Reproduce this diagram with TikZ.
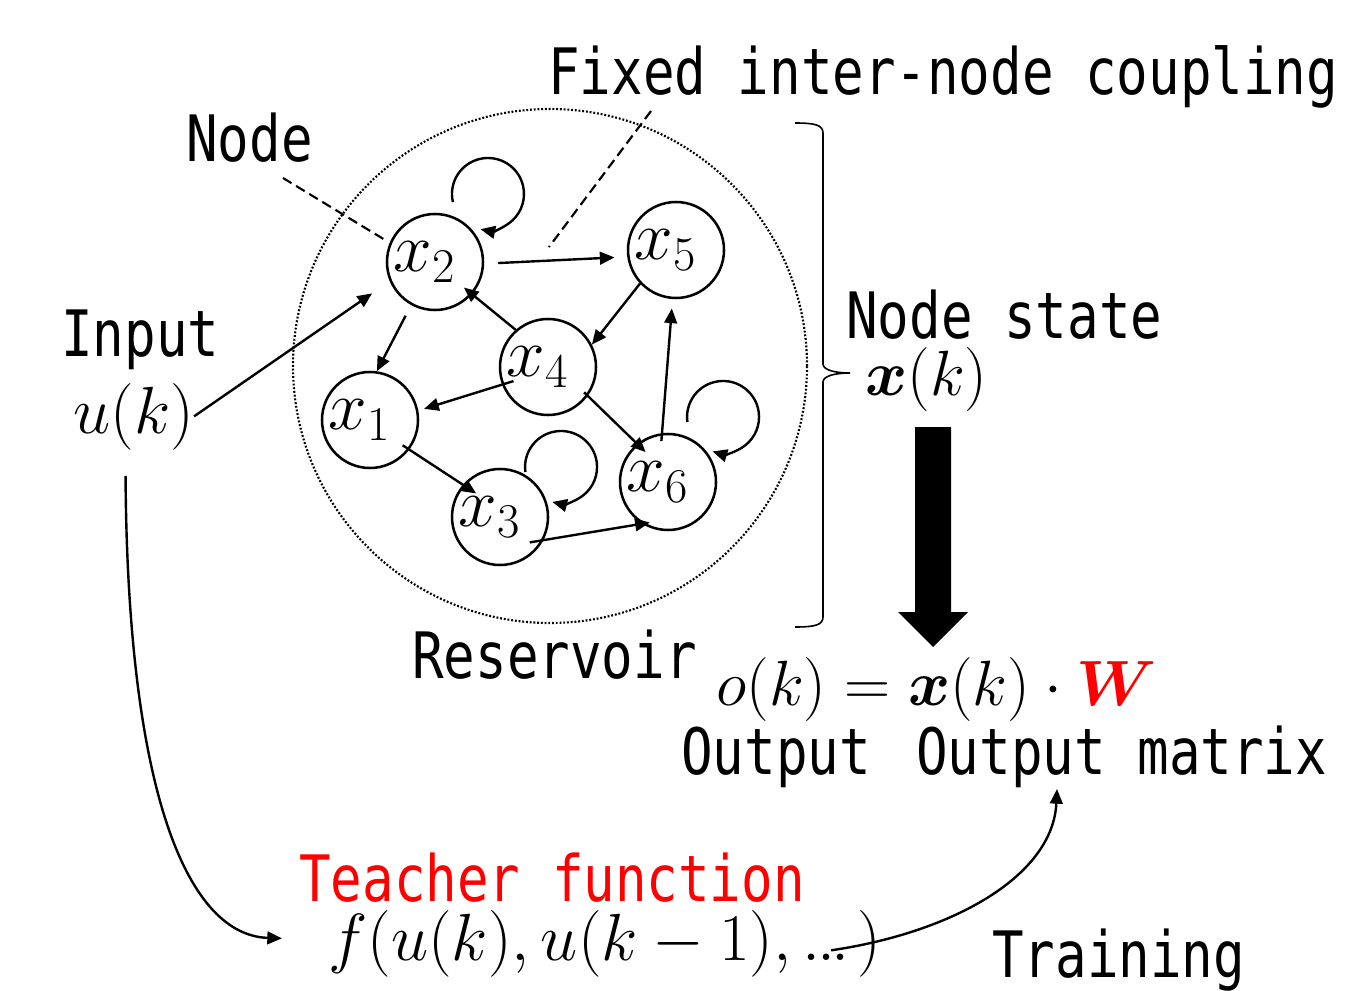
\RequirePackage{fix-cm}
\documentclass[tikz,border=0pt]{standalone}
\usepackage{amsmath}
\usepackage{fontspec}
\usetikzlibrary{arrows.meta}
\newfontfamily\lblfont[FakeStretch=0.82]{DejaVu Sans Mono}
\newcommand\lblsize{\fontsize{48pt}{52pt}\selectfont}
\newcommand\mathsz{\fontsize{48pt}{52pt}\selectfont}
\newcommand\nodesz{\fontsize{52pt}{56pt}\selectfont}
\definecolor{tred}{RGB}{255,0,0}

\begin{document}
\begin{tikzpicture}[x=0.75pt, y=-0.75pt,
  rnode/.style={circle, draw, line width=1.9pt, minimum size=72pt, inner sep=0pt, font=\nodesz},
  arr/.style={-{Triangle[length=11pt,width=9.5pt]}, line width=1.8pt},
  lbl/.style={anchor=base west, inner sep=0pt, font=\lblfont\lblsize},
  mth/.style={anchor=base west, inner sep=0pt, font=\mathsz},
  leader/.style={line width=1.6pt, dash pattern=on 7.5pt off 4pt},
  brace/.style={line width=1.2pt}]

\useasboundingbox (0,0) rectangle (1349,991);

% reservoir boundary
\node[circle, draw, line width=1.6pt, dash pattern=on 1.4pt off 1.4pt,
      minimum size=385.5pt, inner sep=0pt] (res) at (550,366) {};

% reservoir nodes
\node[rnode] (x1) at (370,420) {$x_1$\kern16pt};
\node[rnode] (x2) at (435,262) {$x_2$\kern16pt};
\node[rnode] (x3) at (500,517) {$x_3$\kern16pt};
\node[rnode] (x4) at (548,367) {$x_4$\kern16pt};
\node[rnode] (x5) at (676,250) {$x_5$\kern16pt};
\node[rnode] (x6) at (668,482) {$x_6$\kern16pt};

% couplings
\draw[arr, shorten <=10.5pt, shorten >=9.5pt] (x2.358) -- (x5.188);
\draw[arr, shorten >=-8pt] (x4.131) -- (x2.319);
\draw[arr] (x5.223) -- (x4.27);
\draw[arr, shorten <=9pt] (x2.241) -- (x1.82);
\draw[arr, shorten <=-9pt, shorten >=4.5pt] (x4.201) -- (x1.11);
\draw[arr, shorten <=-4pt, shorten >=-9pt] (x4.324) -- (x6.129);
\draw[arr, shorten <=-6pt, shorten >=7pt] (x6.97) -- (x5.266);
\draw[arr, shorten <=-6pt, shorten >=-12pt] (x1.323) -- (x3.139);
\draw[arr, shorten <=-10.5pt, shorten >=-6pt] (x3.332) -- (x6.238);

% self couplings
\draw[arr] ([shift={(17.9,-59.9)}]x2.center) arc[start angle=-167, end angle=-462, radius=27pt];
\draw[arr] ([shift={(25.4,-45)}]x3.center) arc[start angle=-172, end angle=-464, radius=27pt];
\draw[arr] ([shift={(19.4,-60)}]x6.center) arc[start angle=-172, end angle=-467, radius=27pt];

% text
\node[lbl] (fixlbl) at (548,95) {Fixed inter-node coupling};
\node[lbl] (nodelbl) at (186,162) {Node};
\node[lbl] (inlbl) at (61,356) {Input};
\node[mth, font=\fontsize{50pt}{54pt}\selectfont] (uk) at (73,433) {$u(k)$};
\node[lbl] (statelbl) at (846,339) {Node state};
\node[mth] (xk) at (865,395) {$\boldsymbol{x}(k)$};
\node[lbl] (reslbl) at (412,678) {Reservoir};
\node[mth] (eq) at (716,705) {$o(k) = \boldsymbol{x}(k)\cdot\textcolor{tred}{\boldsymbol{W}}$};
\node[lbl] (outlbl) at (681,774) {Output};
\node[lbl] (matlbl) at (916,774) {Output matrix};
\node[lbl, text=tred] (teachlbl) at (299,901) {Teacher function};
\node[mth, font=\fontsize{50pt}{54pt}\selectfont] (teach) at (328,960)
  {$f(u(k),u(k-1),{.}\mkern-1mu{.}\mkern-1mu{.}\mkern2mu)$};
\node[lbl] (trainlbl) at (992,977) {Training};

% leader lines
\coordinate (nodetip) at (283,178);
\draw[leader, shorten >=5pt] (nodetip) -- (x2.157);
\coordinate (fixtop) at (651,111);
\coordinate (fixend) at (549,247);
\draw[leader] (fixtop) -- (fixend);

% input
\draw[arr, shorten >=16pt] (uk.east) -- (x2.203);

% brace around the reservoir state
\draw[brace] (795,123) .. controls (815,123) and (823,125) .. (823,133)
  -- (823,364) .. controls (823,370) and (835,373) .. (850,373)
  .. controls (835,373) and (823,376) .. (823,382)
  -- (823,617) .. controls (823,625) and (815,627) .. (795,627);

% readout arrow
\fill (915,427) -- (951,427) -- (951,612) -- (968,612) -- (933,647)
  -- (898,612) -- (915,612) -- cycle;

% input to teacher function
\draw[arr] ([shift={(-8,26)}]uk.south) .. controls +(2,325) and +(-92,-3) .. ([shift={(-46,-5)}]teach.west);

% training
\coordinate (trainend) at (1057,789);
\draw[arr] ([shift={(-50,7)}]teach.east) .. controls (955,932) and (1053,875) .. (trainend);
\end{tikzpicture}
\end{document}
